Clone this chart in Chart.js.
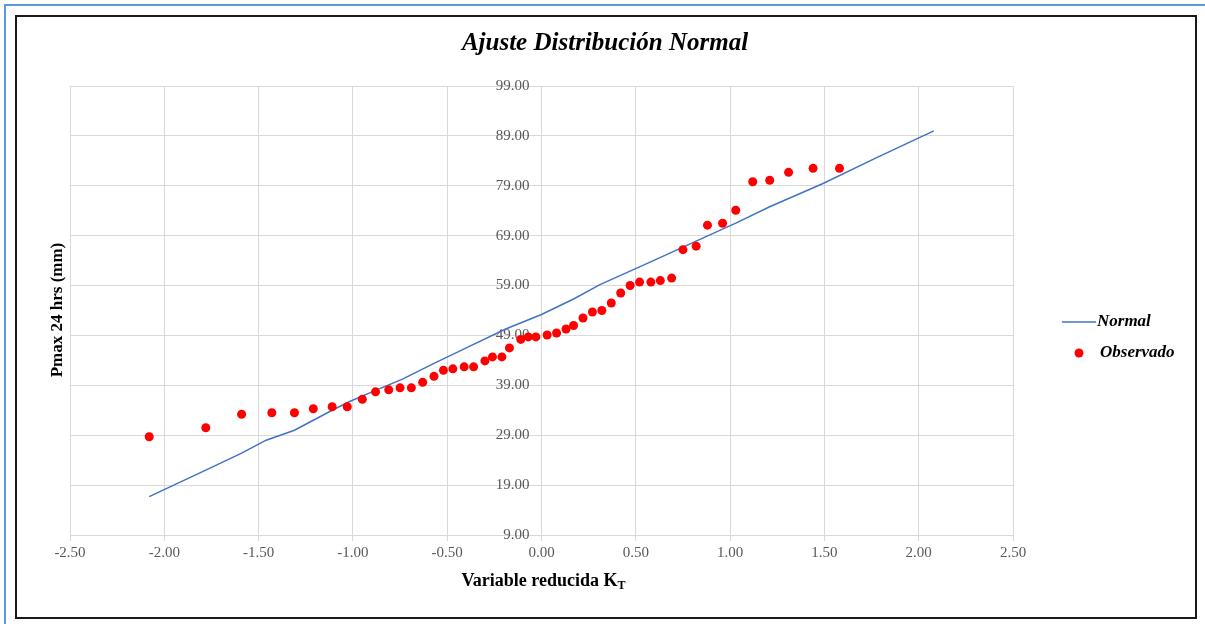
<!DOCTYPE html>
<html lang="es">
<head>
    <meta charset="UTF-8">
    <title>Ajuste Distribución Normal</title>
    <script src="https://cdn.jsdelivr.net/npm/chart.js"></script>
    <style>
        html, body { margin: 0; padding: 0; background: #ffffff; }
        #grafico { display: block; }
    </style>
</head>
<body>
    <canvas id="grafico" width="1205" height="624"></canvas>

    <script>
        // Variable reducida K_T de cada dato observado
        const kObservado = [-2.08, -1.78, -1.59, -1.43, -1.31, -1.21, -1.11, -1.03, -0.95, -0.88,
            -0.81, -0.75, -0.69, -0.63, -0.57, -0.52, -0.47, -0.41, -0.36, -0.30,
            -0.26, -0.21, -0.17, -0.11, -0.07, -0.03, 0.03, 0.08, 0.13, 0.17,
            0.22, 0.27, 0.32, 0.37, 0.42, 0.47, 0.52, 0.58, 0.63, 0.69,
            0.75, 0.82, 0.88, 0.96, 1.03, 1.12, 1.21, 1.31, 1.44, 1.58];
        // Pmax 24 hrs observada (mm)
        const pObservado = [28.7, 30.5, 33.2, 33.5, 33.5, 34.3, 34.7, 34.7, 36.2, 37.7,
            38.1, 38.5, 38.5, 39.6, 40.8, 42.0, 42.3, 42.7, 42.7, 43.9,
            44.7, 44.7, 46.5, 48.2, 48.7, 48.7, 49.1, 49.5, 50.3, 51.0,
            52.5, 53.7, 54.0, 55.5, 57.5, 59.0, 59.7, 59.7, 60.0, 60.5,
            66.2, 66.9, 71.1, 71.5, 74.1, 79.8, 80.1, 81.7, 82.5, 82.5];

        // Curva normal ajustada
        const kNormal = [-2.08, -1.78, -1.59, -1.46, -1.31, -1.21, -1.11, -1.02, -0.88, -0.74,
            -0.57, -0.41, -0.19, 0.00, 0.17, 0.31, 0.57, 0.82, 1.03, 1.21,
            1.49, 1.78, 2.08];
        const pNormal = [16.7, 22.0, 25.4, 28.0, 30.0, 32.0, 34.0, 35.7, 38.0, 40.2,
            43.4, 46.3, 50.3, 53.2, 56.3, 59.2, 63.6, 67.9, 71.5, 74.8,
            79.4, 84.7, 90.0];

        const yTicks = { min: 9, max: 99, step: 10 };
        const xTicks = { min: -2.5, max: 2.5, step: 0.5 };

        const serif = '"Liberation Serif", "Times New Roman", serif';
        const gris = '#d9d9d9';

        const marco = {
            id: 'marco',
            beforeDraw(chart) {
                const ctx = chart.ctx;
                ctx.save();
                ctx.fillStyle = '#ffffff';
                ctx.fillRect(0, 0, chart.width, chart.height);
                ctx.strokeStyle = '#5b9bd5';
                ctx.lineWidth = 2;
                ctx.strokeRect(5, 5, chart.width + 10, chart.height + 10);
                ctx.strokeStyle = '#1a1a1a';
                ctx.lineWidth = 2;
                ctx.strokeRect(16, 16, 1180, 602);
                ctx.restore();
            },
            afterDraw(chart) {
                const ctx = chart.ctx;
                const area = chart.chartArea;
                ctx.save();
                ctx.fillStyle = '#000000';

                // titulo
                ctx.font = 'italic bold 25px ' + serif;
                ctx.textAlign = 'center';
                ctx.textBaseline = 'middle';
                ctx.fillText('Ajuste Distribución Normal', 605, 44);

                // titulo eje Y
                ctx.save();
                ctx.translate(58, 310);
                ctx.rotate(-Math.PI / 2);
                ctx.font = 'bold 17px ' + serif;
                ctx.fillText('Pmax 24 hrs (mm)', 0, 0);
                ctx.restore();

                // titulo eje X con subindice
                const texto = 'Variable reducida K';
                ctx.font = 'bold 18px ' + serif;
                const w1 = ctx.measureText(texto).width;
                ctx.font = 'bold 12px ' + serif;
                const w2 = ctx.measureText('T').width;
                const x0 = (area.left + area.right) / 2 + 2 - (w1 + w2) / 2;
                ctx.textAlign = 'left';
                ctx.textBaseline = 'alphabetic';
                ctx.font = 'bold 18px ' + serif;
                ctx.fillText(texto, x0, 586);
                ctx.font = 'bold 12px ' + serif;
                ctx.fillText('T', x0 + w1, 589);

                // leyenda
                ctx.strokeStyle = '#4472c4';
                ctx.lineWidth = 1.5;
                ctx.beginPath();
                ctx.moveTo(1062, 322);
                ctx.lineTo(1096, 322);
                ctx.stroke();
                ctx.fillStyle = '#ff0000';
                ctx.beginPath();
                ctx.arc(1079, 353, 4.5, 0, Math.PI * 2);
                ctx.fill();
                ctx.fillStyle = '#000000';
                ctx.font = 'italic bold 17px ' + serif;
                ctx.textBaseline = 'middle';
                ctx.fillText(chart.data.datasets[1].label, 1097, 322);
                ctx.fillText(chart.data.datasets[0].label, 1100, 353);
                ctx.restore();
            }
        };

        new Chart(document.getElementById('grafico'), {
            type: 'scatter',
            data: {
                datasets: [{
                    label: 'Observado',
                    data: kObservado.map((k, i) => ({ x: k, y: pObservado[i] })),
                    backgroundColor: '#ff0000',
                    borderColor: '#ff0000',
                    pointRadius: 4.5,
                    pointBorderWidth: 0,
                    order: 1
                }, {
                    label: 'Normal',
                    data: kNormal.map((k, i) => ({ x: k, y: pNormal[i] })),
                    showLine: true,
                    borderColor: '#4472c4',
                    borderWidth: 1.5,
                    pointRadius: 0,
                    order: 2
                }]
            },
            options: {
                responsive: false,
                animation: false,
                layout: {
                    padding: { left: 70, right: 192, top: 86, bottom: 49 }
                },
                plugins: {
                    legend: { display: false },
                    tooltip: { enabled: false },
                    title: { display: false }
                },
                scales: {
                    x: {
                        type: 'linear',
                        position: 'bottom',
                        min: xTicks.min,
                        max: xTicks.max,
                        afterFit: (scale) => { scale.height = 40; },
                        ticks: {
                            stepSize: xTicks.step,
                            color: '#595959',
                            font: { family: serif, size: 15 },
                            padding: 3,
                            callback: (v) => v.toFixed(2)
                        },
                        grid: { color: gris, tickLength: 6 },
                        border: { color: gris }
                    },
                    y: {
                        type: 'linear',
                        position: 'center',
                        min: yTicks.min,
                        max: yTicks.max,
                        afterFit: (scale) => { scale.width = 0; },
                        ticks: {
                            stepSize: yTicks.step,
                            color: '#595959',
                            font: { family: serif, size: 15 },
                            padding: 4,
                            callback: (v) => v.toFixed(2)
                        },
                        grid: { color: gris, tickLength: 8 },
                        border: { color: gris }
                    }
                }
            },
            plugins: [marco]
        });
    </script>
</body>
</html>
